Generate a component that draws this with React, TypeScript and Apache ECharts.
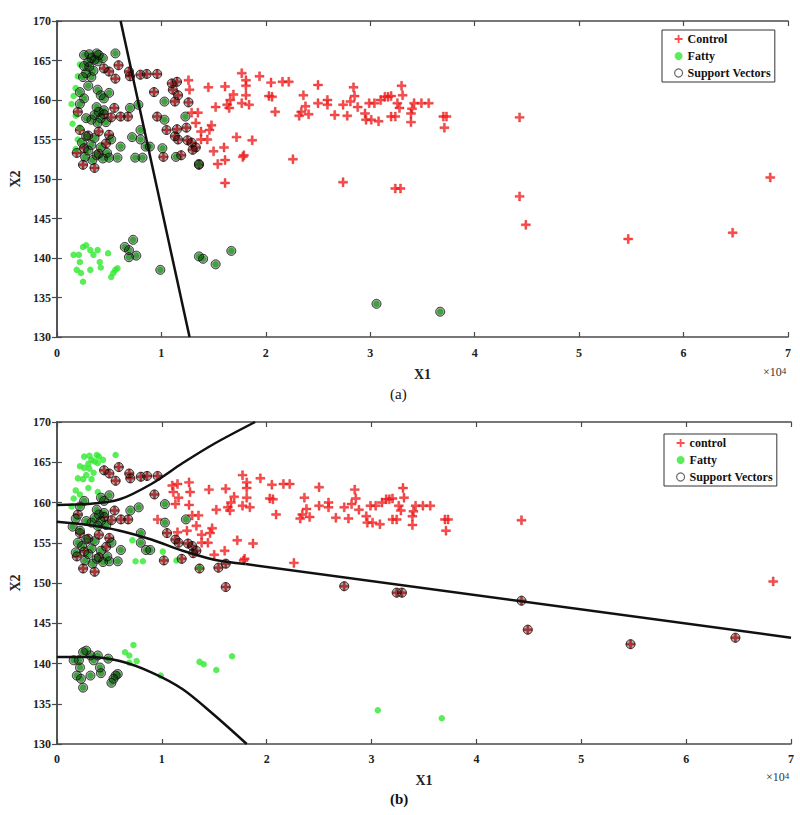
import React, { useEffect, useRef } from "react";
import * as echarts from "echarts";

// x in units of 10^4, y, support vector in (a), support vector in (b)
const controlPts: number[][] = [
  [0.45, 164.0, 1, 1], [0.5, 163.6, 1, 1], [0.59, 164.4, 1, 1], [0.56, 162.7, 1, 1],
  [0.69, 163.6, 1, 1], [0.7, 163.0, 1, 1], [0.8, 163.2, 1, 1], [0.86, 163.3, 1, 1],
  [0.96, 163.3, 1, 1], [0.93, 161.0, 1, 1], [1.1, 162.1, 1, 0], [1.15, 162.3, 1, 0],
  [1.11, 161.3, 1, 0], [1.16, 160.6, 1, 0], [1.13, 159.8, 1, 0], [1.26, 159.7, 1, 0],
  [0.61, 157.9, 1, 1], [0.68, 157.9, 1, 1], [0.55, 159.0, 1, 1], [0.96, 157.9, 1, 0],
  [1.05, 156.2, 1, 1], [1.15, 156.3, 1, 0], [1.24, 156.5, 1, 0], [1.13, 155.4, 1, 1],
  [1.16, 155.0, 1, 1], [1.25, 154.9, 1, 1], [1.29, 154.6, 1, 1], [1.33, 154.0, 1, 1],
  [1.3, 153.7, 1, 1], [1.36, 151.8, 1, 1], [1.19, 153.0, 1, 1], [1.02, 152.8, 1, 1],
  [0.22, 156.2, 1, 1], [0.19, 153.3, 1, 1], [0.26, 153.9, 1, 1], [0.25, 151.8, 1, 1],
  [0.36, 151.4, 1, 1], [0.47, 154.5, 1, 1], [0.5, 155.6, 1, 1], [0.3, 155.5, 1, 1],
  [0.2, 158.5, 1, 1], [0.4, 156.0, 1, 1], [0.45, 158.2, 1, 1], [0.52, 157.8, 1, 1],
  [0.4, 153.2, 1, 1],
  [1.26, 162.5, 0, 0], [1.27, 161.3, 0, 0], [1.29, 158.4, 0, 0], [1.35, 158.4, 0, 0],
  [1.33, 157.1, 0, 0], [1.38, 156.0, 0, 0], [1.38, 155.0, 0, 0], [1.44, 155.0, 0, 0],
  [1.45, 161.6, 0, 0], [1.52, 159.1, 0, 0], [1.61, 161.7, 0, 0], [1.63, 159.4, 0, 0],
  [1.65, 159.0, 0, 0], [1.66, 160.0, 0, 0], [1.69, 160.7, 0, 0], [1.77, 163.4, 0, 0],
  [1.81, 162.5, 0, 0], [1.81, 161.8, 0, 0], [1.81, 160.6, 0, 0], [1.77, 159.6, 0, 0],
  [1.84, 159.4, 0, 0], [1.94, 163.0, 0, 0], [2.05, 162.2, 0, 0], [2.03, 160.5, 0, 0],
  [2.06, 160.4, 0, 0], [2.09, 158.5, 0, 0], [2.16, 162.3, 0, 0], [2.22, 162.3, 0, 0],
  [2.36, 160.6, 0, 0], [2.38, 159.2, 0, 0], [2.34, 158.5, 0, 0], [2.32, 158.0, 0, 0],
  [2.41, 158.2, 0, 0], [2.5, 161.9, 0, 0], [2.5, 159.6, 0, 0], [2.59, 160.0, 0, 0],
  [2.59, 159.4, 0, 0], [2.66, 158.1, 0, 0], [2.74, 159.4, 0, 0], [2.78, 158.0, 0, 0],
  [2.81, 159.8, 0, 0], [2.84, 161.6, 0, 0], [2.85, 160.5, 0, 0], [2.88, 159.1, 0, 0],
  [2.95, 158.3, 0, 0], [2.96, 157.5, 0, 0], [3.01, 157.5, 0, 0], [2.99, 159.6, 0, 0],
  [3.04, 159.6, 0, 0], [3.08, 157.3, 0, 0], [3.1, 160.0, 0, 0], [3.14, 160.4, 0, 0],
  [3.17, 160.4, 0, 0], [3.2, 160.5, 0, 0], [3.2, 157.9, 0, 0], [3.24, 157.9, 0, 0],
  [3.26, 159.6, 0, 0], [3.28, 159.0, 0, 0], [3.3, 161.8, 0, 0], [3.31, 160.6, 0, 0],
  [3.39, 157.2, 0, 0], [3.39, 158.3, 0, 0], [3.4, 158.9, 0, 0], [3.42, 159.6, 0, 0],
  [3.49, 159.6, 0, 0], [3.56, 159.6, 0, 0], [3.7, 157.9, 0, 0], [3.73, 157.9, 0, 0],
  [3.71, 156.5, 0, 0],
  [1.48, 156.8, 0, 0], [1.46, 156.2, 0, 0], [1.5, 153.5, 0, 0], [1.6, 154.0, 0, 0],
  [1.54, 151.9, 0, 1], [1.61, 152.4, 0, 1], [1.72, 155.3, 0, 0], [1.87, 154.9, 0, 0],
  [1.79, 153.0, 0, 0], [1.78, 152.8, 0, 0], [2.26, 152.5, 0, 0], [1.61, 149.5, 0, 1],
  [2.74, 149.6, 0, 1], [3.24, 148.8, 0, 1], [3.29, 148.8, 0, 1],
  [4.43, 157.8, 0, 0], [4.43, 147.8, 0, 1], [4.49, 144.2, 0, 1], [5.47, 142.4, 0, 1],
  [6.47, 143.2, 0, 1], [6.83, 150.2, 0, 0],
];

const fattyPts: number[][] = [
  [0.26, 165.7, 1, 0], [0.31, 165.8, 1, 0], [0.38, 165.9, 1, 0], [0.4, 165.7, 1, 0],
  [0.33, 165.3, 1, 0], [0.36, 165.1, 1, 0], [0.3, 164.8, 1, 0], [0.39, 164.9, 1, 0],
  [0.44, 165.3, 1, 0], [0.26, 164.3, 1, 0], [0.31, 164.2, 1, 0], [0.35, 163.7, 1, 0],
  [0.28, 163.4, 1, 0], [0.25, 162.9, 1, 0], [0.33, 162.9, 1, 0], [0.56, 165.9, 1, 0],
  [0.22, 164.5, 0, 0], [0.2, 163.0, 0, 0], [0.18, 161.5, 0, 0], [0.16, 160.5, 0, 0],
  [0.14, 159.5, 0, 0], [0.22, 161.0, 1, 0], [0.3, 161.8, 1, 0],
  [0.39, 161.3, 1, 0], [0.42, 160.6, 1, 1], [0.45, 160.2, 1, 1], [0.5, 160.9, 1, 1],
  [0.38, 159.1, 1, 1], [0.4, 158.5, 1, 1], [0.45, 158.7, 1, 1], [0.36, 158.1, 1, 1],
  [0.42, 157.7, 1, 1], [0.47, 157.2, 1, 1], [0.39, 157.1, 1, 1], [0.33, 157.5, 1, 1],
  [0.28, 157.7, 1, 1], [0.18, 158.0, 0, 1], [0.15, 157.0, 0, 1], [0.22, 159.5, 1, 1],
  [0.26, 160.2, 1, 1],
  [0.2, 155.0, 0, 1], [0.18, 153.8, 0, 1], [0.24, 154.6, 1, 1], [0.28, 155.4, 1, 1],
  [0.3, 153.6, 1, 1], [0.33, 154.3, 1, 1], [0.36, 155.2, 1, 1], [0.38, 153.0, 1, 1],
  [0.42, 154.0, 1, 1], [0.44, 152.6, 1, 1], [0.27, 152.8, 1, 1], [0.34, 152.4, 1, 1],
  [0.48, 153.3, 1, 1], [0.52, 155.0, 1, 1], [0.22, 156.5, 0, 1],
  [0.7, 159.0, 1, 1], [0.72, 155.3, 1, 0], [0.8, 156.2, 1, 1], [0.75, 152.7, 1, 0],
  [0.82, 152.7, 1, 0], [0.89, 154.1, 1, 1], [1.01, 153.9, 1, 0], [1.03, 159.8, 1, 1],
  [1.03, 157.5, 1, 1], [1.14, 152.8, 1, 0], [1.23, 157.9, 1, 1], [1.36, 151.9, 1, 0],
  [0.61, 154.1, 1, 1], [0.58, 152.7, 1, 1], [0.5, 152.7, 1, 1], [0.8, 155.0, 1, 1],
  [0.85, 154.1, 1, 1], [0.78, 159.4, 1, 1],
  [0.16, 140.4, 0, 1], [0.25, 141.4, 0, 1], [0.28, 141.6, 0, 1], [0.32, 141.0, 0, 1],
  [0.35, 140.4, 0, 1], [0.39, 141.0, 0, 1], [0.49, 140.6, 0, 1], [0.41, 139.5, 0, 1],
  [0.42, 138.8, 0, 1], [0.32, 138.5, 0, 1], [0.23, 138.1, 0, 1], [0.25, 137.0, 0, 1],
  [0.19, 138.5, 0, 1], [0.52, 137.6, 0, 1], [0.54, 138.1, 0, 1], [0.56, 138.5, 0, 1],
  [0.58, 138.7, 0, 1], [0.22, 139.5, 0, 1], [0.21, 140.4, 0, 1],
  [0.65, 141.4, 1, 0], [0.73, 142.3, 1, 0], [0.69, 141.0, 1, 0], [0.69, 140.1, 1, 0],
  [0.76, 140.3, 1, 0], [0.99, 138.5, 1, 0], [1.36, 140.2, 1, 0], [1.4, 139.9, 1, 0],
  [1.52, 139.2, 1, 0], [1.67, 140.9, 1, 0], [3.06, 134.2, 1, 0], [3.67, 133.2, 1, 0],
];

// decision boundaries
const boundaryA: number[][] = [[0.61, 170], [1.27, 130]];
const upperB: number[][] = [
  [0, 159.7], [0.3, 159.8], [0.6, 160.4], [0.9, 162.3], [1.2, 164.9], [1.5, 167.3], [1.89, 170],
];
const middleCurveB: number[][] = [
  [0, 157.6], [0.3, 157.2], [0.6, 156.5], [0.9, 155.4], [1.2, 154.0], [1.5, 152.9], [1.8, 152.35],
];
const middleStraightB: number[][] = [[1.8, 152.35], [7.0, 143.2]];
const lowerB: number[][] = [
  [0, 140.8], [0.3, 140.8], [0.6, 140.3], [0.9, 138.9], [1.2, 136.8], [1.5, 133.6], [1.81, 130],
];

const xRange = [0, 7];
const xStep = 1;
const yRange = [130, 170];
const yStep = 5;
const legendA = ["Control", "Fatty", "Support Vectors"];
const legendB = ["control", "Fatty", "Support Vectors"];
const panelLabels = ["(a)", "(b)"];

const SERIF = "'Liberation Serif', 'Times New Roman', serif";
const PLUS = "path://M3.9,0 H6.1 V3.9 H10 V6.1 H6.1 V10 H3.9 V6.1 H0 V3.9 H3.9 Z";

const grids = [
  { left: 43, top: 21, width: 745, height: 316 },
  { left: 43, top: 422, width: 748, height: 322 },
];

function axisPair(gi: number) {
  const line = { show: true, lineStyle: { color: "#4a4a4a", width: 1.5 } };
  const tick = { show: true, inside: true, length: 5, lineStyle: { color: "#4a4a4a", width: 1.2 } };
  const label = { fontFamily: SERIF, fontWeight: "bold", fontSize: 12, color: "#222" };
  const nameStyle = { fontFamily: SERIF, fontWeight: "bold", fontSize: 14, color: "#222" };
  const x = [
    {
      type: "value", gridIndex: gi, min: xRange[0], max: xRange[1], interval: xStep,
      position: "bottom", axisLine: line, axisTick: tick,
      axisLabel: { ...label, margin: gi === 0 ? 10 : 9 }, splitLine: { show: false },
      name: "X1", nameLocation: "middle", nameGap: gi === 0 ? 30 : 29, nameTextStyle: nameStyle,
    },
    {
      type: "value", gridIndex: gi, min: xRange[0], max: xRange[1], interval: xStep,
      position: "top", axisLine: line, axisTick: tick, axisLabel: { show: false },
      splitLine: { show: false },
    },
  ];
  const y = [
    {
      type: "value", gridIndex: gi, min: yRange[0], max: yRange[1], interval: yStep,
      position: "left", axisLine: line, axisTick: tick,
      axisLabel: { ...label, margin: 6 }, splitLine: { show: false },
      name: "X2", nameLocation: "middle", nameGap: 31, nameRotate: 90, nameTextStyle: nameStyle,
    },
    {
      type: "value", gridIndex: gi, min: yRange[0], max: yRange[1], interval: yStep,
      position: "right", axisLine: line, axisTick: tick, axisLabel: { show: false },
      splitLine: { show: false },
    },
  ];
  return { x, y };
}

function panelSeries(gi: number, names: string[], svCol: number, lines: { d: number[][]; s: boolean }[]) {
  const ax = { xAxisIndex: gi * 2, yAxisIndex: gi * 2 };
  const xy = (p: number[]) => [p[0], p[1]];
  const sv = [...controlPts, ...fattyPts].filter((p) => p[svCol] === 1).map(xy);
  const out: any[] = [
    {
      type: "scatter", name: names[0], ...ax, data: controlPts.map(xy), symbol: PLUS, symbolSize: 9,
      itemStyle: { color: "#ff1f1f", borderColor: "#c40000", borderWidth: 0.4 }, z: 2,
    },
    {
      type: "scatter", name: names[1], ...ax, data: fattyPts.map(xy), symbol: "circle", symbolSize: 6.5,
      itemStyle: { color: "#2fe82f" }, z: 3,
    },
    {
      type: "scatter", name: names[2], ...ax, data: sv, symbol: "circle", symbolSize: 9,
      itemStyle: { color: "rgba(0,0,0,0.38)", borderColor: "#111", borderWidth: 1 }, z: 4,
    },
  ];
  lines.forEach(({ d, s }) => {
    out.push({
      type: "line", ...ax, data: d, showSymbol: false, smooth: s ? 0.3 : false,
      lineStyle: { color: "#111", width: 2.5 }, silent: true, z: 5,
    });
  });
  return out;
}

function legendFor(gi: number, names: string[]) {
  return {
    data: [
      { name: names[0], icon: PLUS, itemStyle: { color: "#ff1f1f", borderWidth: 0 } },
      { name: names[1], icon: "circle", itemStyle: { color: "#2fe82f" } },
      { name: names[2], icon: "circle", itemStyle: { color: "#fff", borderColor: "#444", borderWidth: 1.2 } },
    ],
    orient: "vertical",
    left: gi === 0 ? 662 : 664,
    top: gi === 0 ? 30 : 434,
    backgroundColor: "#fff",
    borderColor: "#333",
    borderWidth: 1,
    borderRadius: 0,
    padding: [3, 4, 3, 12],
    itemGap: 5,
    itemWidth: 8,
    itemHeight: 8,
    textStyle: { fontFamily: SERIF, fontWeight: "bold", fontSize: 12, color: "#111" },
    selectedMode: false,
  };
}

export default function App() {
  const ref = useRef<HTMLDivElement>(null);
  useEffect(() => {
    if (!ref.current) return;
    const chart = echarts.init(ref.current, undefined, { renderer: "svg" });
    const a0 = axisPair(0);
    const a1 = axisPair(1);
    const sup = (x: number, y: number) => ({
      type: "text", left: x, top: y, silent: true,
      style: {
        text: "×10{s|4}", fontFamily: SERIF, fontSize: 12, fill: "#333",
        rich: { s: { fontSize: 9, verticalAlign: "top", fontFamily: SERIF, fill: "#333" } },
      },
    });
    chart.setOption({
      animation: false,
      backgroundColor: "#fff",
      grid: grids,
      xAxis: [...a0.x, ...a1.x],
      yAxis: [...a0.y, ...a1.y],
      legend: [legendFor(0, legendA), legendFor(1, legendB)],
      series: [
        ...panelSeries(0, legendA, 2, [{ d: boundaryA, s: false }]),
        ...panelSeries(1, legendB, 3, [
          { d: upperB, s: true },
          { d: middleCurveB, s: true },
          { d: middleStraightB, s: false },
          { d: lowerB, s: true },
        ]),
      ],
      graphic: [
        sup(763, 366),
        sup(766, 771),
        {
          type: "text", left: 390, top: 386, silent: true,
          style: { text: panelLabels[0], fontFamily: SERIF, fontSize: 15, fill: "#111" },
        },
        {
          type: "text", left: 390, top: 791, silent: true,
          style: { text: panelLabels[1], fontFamily: SERIF, fontSize: 15, fontWeight: "bold", fill: "#111" },
        },
      ],
    });
    return () => chart.dispose();
  }, []);
  return (
    <div
      ref={ref}
      style={{ position: "fixed", left: 0, top: 0, width: 800, height: 815, background: "#fff" }}
    />
  );
}
